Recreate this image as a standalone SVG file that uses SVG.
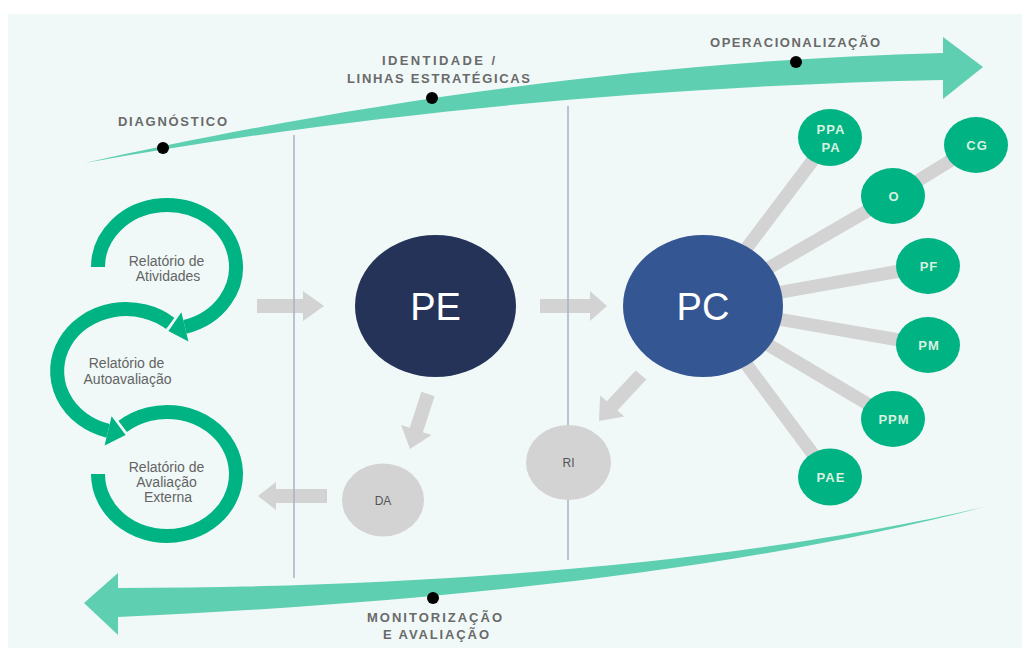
<svg xmlns="http://www.w3.org/2000/svg" width="1029" height="650" viewBox="0 0 1029 650">
<style>
.lbl{font-family:"Liberation Sans",Arial,sans-serif;font-size:13px;font-weight:bold;fill:#6a6a6a;text-anchor:middle}
.cl{font-family:"Liberation Sans",Arial,sans-serif;font-size:14px;fill:#646464;text-anchor:middle}
.big{font-family:"Liberation Sans",Arial,sans-serif;font-size:38px;fill:#ffffff;text-anchor:middle}
.gn{fill:#00b383}
.gt{font-family:"Liberation Sans",Arial,sans-serif;font-size:13px;font-weight:bold;fill:#d8f1e0;text-anchor:middle;letter-spacing:1px}
.grey{fill:#d3d3d3}
.gl{font-family:"Liberation Sans",Arial,sans-serif;font-size:12px;fill:#555;text-anchor:middle}
.flow{fill:#5ecfb1}
.dot{fill:#000}
.vline{stroke:#a9b2c3;stroke-width:1.5}
.arc{fill:none;stroke:#00b383;stroke-width:14}
.head{fill:#00b383}
.gap{fill:none;stroke:#f0f9f8;stroke-width:5;stroke-linejoin:round}
.spoke{stroke:#d3d3d3;stroke-width:13}
</style>
<rect x="0" y="0" width="1029" height="650" fill="#ffffff"/>
<rect x="8" y="14" width="1014" height="634" fill="#f0f9f8"/>

<g id="flow-top">
<path class="flow" d="M85,163 C300,115 600,62 943,53 L943,37 L983,67 L943,99 L943,80 C650,86 350,115 85,163 Z"/>
<circle class="dot" cx="163" cy="148" r="6"/>
<circle class="dot" cx="432" cy="98" r="6"/>
<circle class="dot" cx="796" cy="62" r="6"/>
<text class="lbl" x="172.5" y="126" textLength="109" lengthAdjust="spacing">DIAGNÓSTICO</text>
<text class="lbl" x="438.5" y="65" textLength="113" lengthAdjust="spacing">IDENTIDADE /</text>
<text class="lbl" x="438.5" y="83" textLength="183" lengthAdjust="spacing">LINHAS ESTRATÉGICAS</text>
<text class="lbl" x="795" y="47" textLength="170" lengthAdjust="spacing">OPERACIONALIZAÇÃO</text>
</g>

<g id="flow-bottom">
<path class="flow" d="M984,507 C800,550 500,588 118,588 L118,573 L84,603 L118,635 L118,617 C500,600 780,560 984,507 Z"/>
<circle class="dot" cx="433" cy="598" r="6"/>
<text class="lbl" x="434.5" y="622" textLength="135" lengthAdjust="spacing">MONITORIZAÇÃO</text>
<text class="lbl" x="436" y="639" textLength="106" lengthAdjust="spacing">E AVALIAÇÃO</text>
</g>

<g id="connectors">
<polygon class="grey" points="257,299 303,299 303,291 324,306 303,321 303,313 257,313"/>
<polygon class="grey" points="540,299 590,299 590,291 607,306 590,321 590,313 540,313"/>
<polygon class="grey" points="434.6,396.2 422.9,432.2 431.5,435.1 410,449 401.1,424.9 409.7,427.8 421.4,391.8"/>
<polygon class="grey" points="646.3,379.6 617.4,410.5 624.1,416.4 599,421 600.1,395.4 606.8,401.3 635.7,370.4"/>
<polygon class="grey" points="327,489 276,489 276,482 258,496 276,510 276,503 327,503"/>
<line class="spoke" x1="703" y1="306" x2="830" y2="137.5"/>
<line class="spoke" x1="703" y1="306" x2="893" y2="196"/>
<line class="spoke" x1="893" y1="196" x2="976" y2="145"/>
<line class="spoke" x1="703" y1="306" x2="928" y2="266"/>
<line class="spoke" x1="703" y1="306" x2="928" y2="345"/>
<line class="spoke" x1="703" y1="306" x2="893" y2="419"/>
<line class="spoke" x1="703" y1="306" x2="830" y2="477"/>
</g>

<g id="dividers">
<line class="vline" x1="294" y1="135" x2="294" y2="578"/>
<line class="vline" x1="568" y1="106" x2="568" y2="560"/>
</g>

<g id="cycle">
<g id="relatorio-avaliacao-externa">
<path class="arc" d="M122.6,426.5 A69,62 0 1 1 98,474"/>
<text class="cl" x="166.5" y="472">Relatório de</text>
<text class="cl" x="166.5" y="487">Avaliação</text>
<text class="cl" x="168" y="502">Externa</text>
</g>
<g id="relatorio-autoavaliacao">
<path class="arc" d="M170.4,323.5 A69,62 0 1 0 108.1,430.9"/>
<polyline class="gap" points="111.6,416.3 125.6,435.1 104.6,445.5"/>
<polygon class="head" points="111.6,416.3 125.6,435.1 104.6,445.5"/>
<text class="cl" x="126.5" y="368">Relatório de</text>
<text class="cl" x="127.5" y="384">Autoavaliação</text>
</g>
<g id="relatorio-atividades">
<path class="arc" d="M98,267 A69,62 0 1 1 184.9,326.9"/>
<polyline class="gap" points="181.4,312.3 168.4,330.9 188.4,341.5"/>
<polygon class="head" points="181.4,312.3 168.4,330.9 188.4,341.5"/>
<text class="cl" x="166.5" y="266">Relatório de</text>
<text class="cl" x="168" y="281">Atividades</text>
</g>
</g>

<g id="PE">
<ellipse cx="435.5" cy="306" rx="80.5" ry="71" fill="#263359"/>
<text class="big" x="435.5" y="319.5">PE</text>
</g>
<g id="PC">
<ellipse cx="703" cy="306" rx="80" ry="71" fill="#345693"/>
<text class="big" x="703" y="319.5">PC</text>
</g>
<g id="DA">
<ellipse class="grey" cx="383" cy="500" rx="41" ry="36.5"/>
<text class="gl" x="383" y="504.5">DA</text>
</g>
<g id="RI">
<ellipse class="grey" cx="568.5" cy="462.5" rx="42.5" ry="37.5"/>
<text class="gl" x="568.5" y="467">RI</text>
</g>

<g id="PPA">
<ellipse class="gn" cx="830" cy="137.5" rx="32" ry="28.5"/>
<text class="gt" x="831" y="134">PPA</text>
<text class="gt" x="831" y="152">PA</text>
</g>
<g id="CG">
<ellipse class="gn" cx="976" cy="145" rx="32" ry="28"/>
<text class="gt" x="977" y="150">CG</text>
</g>
<g id="O">
<ellipse class="gn" cx="893" cy="196" rx="32" ry="28"/>
<text class="gt" x="894" y="201">O</text>
</g>
<g id="PF">
<ellipse class="gn" cx="928" cy="266" rx="32" ry="28"/>
<text class="gt" x="929" y="271">PF</text>
</g>
<g id="PM">
<ellipse class="gn" cx="928" cy="345" rx="32" ry="28"/>
<text class="gt" x="929" y="350">PM</text>
</g>
<g id="PPM">
<ellipse class="gn" cx="893" cy="419" rx="32" ry="28"/>
<text class="gt" x="894" y="424">PPM</text>
</g>
<g id="PAE">
<ellipse class="gn" cx="830" cy="477" rx="32" ry="28.5"/>
<text class="gt" x="831" y="482">PAE</text>
</g>
</svg>
